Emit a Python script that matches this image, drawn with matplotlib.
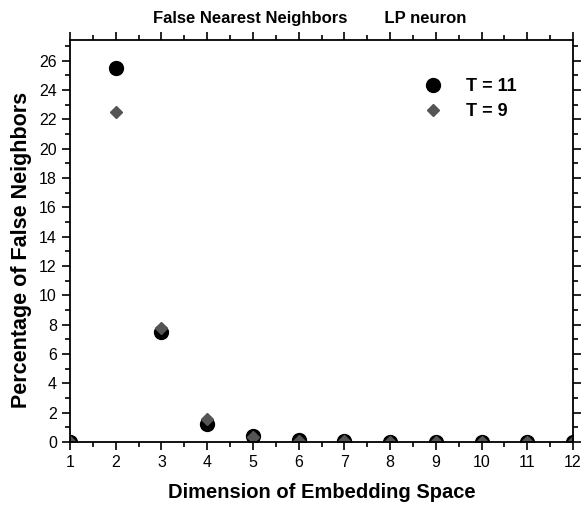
import matplotlib
matplotlib.use('Agg')
import matplotlib.pyplot as plt
from matplotlib.ticker import MultipleLocator

# Datos
dimension = [1, 2, 3, 4, 5, 6, 7, 8, 9, 10, 11, 12]
fnn_t11 = [0.0, 25.5, 7.5, 1.2, 0.4, 0.15, 0.06, 0.03, 0.0, 0.0, 0.0, 0.0]
fnn_t9 = [0.0, 22.5, 7.8, 1.6, 0.35, 0.1, 0.04, 0.02, 0.0, 0.0, 0.0, 0.0]

plt.rcParams['font.family'] = ['Liberation Sans', 'DejaVu Sans']

fig = plt.figure(figsize=(5.82, 5.05), dpi=100)
ax = fig.add_axes([70 / 582, 63 / 505, 503 / 582, 402 / 505])

ax.plot(dimension, fnn_t11, 'o', color='black', markersize=10, label='T = 11')
ax.plot(dimension, fnn_t9, 'D', color='#555555', markersize=6.5, label='T = 9')

ax.set_xlim(1, 12)
ax.set_ylim(0, 27.4)
ax.xaxis.set_major_locator(MultipleLocator(1))
ax.xaxis.set_minor_locator(MultipleLocator(0.5))
ax.yaxis.set_major_locator(MultipleLocator(2))
ax.yaxis.set_minor_locator(MultipleLocator(1))
ax.tick_params(which='both', direction='out', top=True, right=True, width=1.2, labelsize=11.5)
ax.tick_params(which='major', length=6)
ax.tick_params(which='minor', length=3.5)
for s in ax.spines.values():
    s.set_linewidth(1.3)

ax.set_xlabel('Dimension of Embedding Space', fontsize=14.5, fontweight='bold', labelpad=9)
ax.set_ylabel('Percentage of False Neighbors', fontsize=15.5, fontweight='bold')
ax.yaxis.set_label_coords(-0.075, 0.478)
fig.text(310 / 582, 1 - 18 / 505, 'False Nearest Neighbors        LP neuron', ha='center', va='center',
         fontsize=12, fontweight='bold')

leg = ax.legend(loc='upper right', bbox_to_anchor=(0.92, 0.945), frameon=False,
                prop={'size': 13, 'weight': 'bold'}, handletextpad=0.8, labelspacing=0.45)

fig.savefig('out.png', dpi=100)
